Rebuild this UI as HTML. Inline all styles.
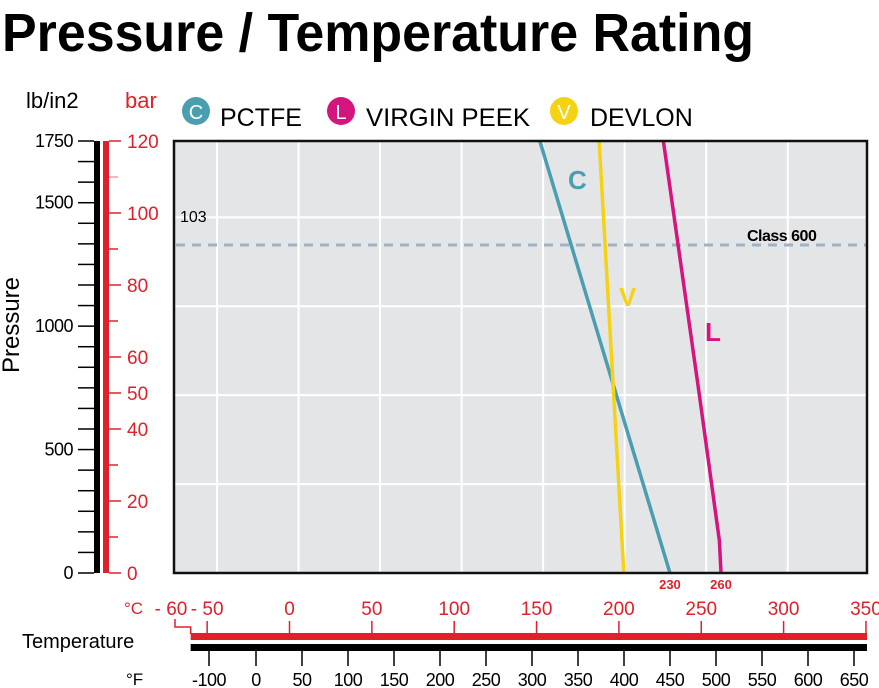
<!DOCTYPE html>
<html><head><meta charset="utf-8"><style>
html,body{margin:0;padding:0;background:#fff;width:879px;height:688px;overflow:hidden}
svg{display:block;font-family:"Liberation Sans",sans-serif}
</style></head><body>
<svg id="chart" width="879" height="688" viewBox="0 0 879 688">
<text x="2" y="51" font-size="54" font-weight="bold" textLength="752" lengthAdjust="spacingAndGlyphs">Pressure / Temperature Rating</text>
<text x="26" y="108" font-size="22">lb/in2</text>
<text x="125" y="108" font-size="22" fill="#e0202a">bar</text>
<g>
 <g><circle cx="196" cy="111" r="14" fill="#4a9eb0"/><text x="196" y="119" font-size="20" fill="#fff" text-anchor="middle">C</text><text x="220" y="126" font-size="25">PCTFE</text></g>
 <g><circle cx="341" cy="111" r="14" fill="#d6147f"/><text x="341" y="119" font-size="20" fill="#fff" text-anchor="middle">L</text><text x="366" y="126" font-size="25" textLength="164" lengthAdjust="spacingAndGlyphs">VIRGIN PEEK</text></g>
 <g><circle cx="564" cy="111" r="14" fill="#f5d314"/><text x="564" y="119" font-size="20" fill="#fff" text-anchor="middle">V</text><text x="590" y="126" font-size="25">DEVLON</text></g>
</g>
<text transform="translate(19,325) rotate(-90)" font-size="24" text-anchor="middle">Pressure</text>
<text x="22" y="648" font-size="20">Temperature</text>
<text x="124" y="614" font-size="17" fill="#e0202a">°C</text>
<text x="126" y="685" font-size="17">°F</text>
<g id="plot"></g>
</svg>
<script>
const psiTicks=[0,500,1000,1500,1750];
const barTicks=[0,20,40,50,60,80,100,120];
const barMinorTicks=[10,30,70,90,110];
const celsiusTicks=[-50,0,50,100,150,200,250,300,350];
const fahrenheitTicks=[-100,0,50,100,150,200,250,300,350,400,450,500,550,600,650];
const gridTemps=[-44,5.5,55,104.5,154,203.5,253,302.5];
const gridBars=[24.7,49.4,74.1,98.8];
const classRating=91.1;
const pctfeTemp=[152,231];
const pctfeBar=[120,0];
const devlonTemp=[188,203];
const devlonBar=[120,0];
const peekTemp=[227,249,261,262];
const peekBar=[120,49,9,0];

const NS="http://www.w3.org/2000/svg";
const svg=document.getElementById('chart');
const X0=174,X1=867,Y0=141,Y1=573;
const xC=c=>289.5+c*1.647;
const yB=b=>Y1-b*(Y1-Y0)/120;
const yP=p=>Y1-p*(Y1-Y0)/1750;
const xF=f=>f>=0?256+0.92*f:256+0.47*f;
function el(t,a,p){const e=document.createElementNS(NS,t);for(const k in a)e.setAttribute(k,a[k]);(p||svg).appendChild(e);return e;}
function tx(s,a){const e=el('text',a);e.textContent=s;return e;}

let e=el('rect',{x:X0,y:Y0,width:X1-X0,height:Y1-Y0,fill:'#e4e5e7'});


gridTemps.forEach(c=>{const g=el('line',{x1:xC(c),x2:xC(c),y1:Y0,y2:Y1,stroke:'#fff','stroke-width':2});

});
gridBars.forEach(b=>{const g=el('line',{x1:X0,x2:X1,y1:yB(b),y2:yB(b),stroke:'#fff','stroke-width':2});

});
e=el('line',{x1:X0+2,x2:X1,y1:yB(classRating),y2:yB(classRating),stroke:'#9fb3c3','stroke-width':3,'stroke-dasharray':'9,7'});


e=tx('Class 600',{x:747,y:241,'font-size':16,'font-weight':'bold','letter-spacing':'-0.5'});


e=tx('103',{x:180,y:222,'font-size':16});



function series(T,B,col,name){const p=el('polyline',{points:T.map((t,i)=>xC(t)+','+yB(B[i])).join(' '),fill:'none',stroke:col,'stroke-width':3.5});

}
series(pctfeTemp,pctfeBar,'#4a9eb0','series-pctfe');
series(devlonTemp,devlonBar,'#f5d314','series-devlon');
series(peekTemp,peekBar,'#d6147f','series-virgin-peek');
e=tx('C',{x:568,y:189,'font-size':26,'font-weight':'bold',fill:'#4a9eb0'});


e=tx('V',{x:619,y:306,'font-size':26,'font-weight':'bold',fill:'#f5d314'});


e=tx('L',{x:705,y:341,'font-size':26,'font-weight':'bold',fill:'#d6147f'});


e=el('rect',{x:X0,y:Y0,width:X1-X0,height:Y1-Y0,fill:'none',stroke:'#111','stroke-width':2.5});


e=tx(String(pctfeTemp[pctfeTemp.length-1]-1),{x:xC(pctfeTemp[pctfeTemp.length-1]),y:589,'font-size':13,fill:'#e0202a','text-anchor':'middle','font-weight':'bold'});


e=tx(String(peekTemp[peekTemp.length-1]-2),{x:xC(peekTemp[peekTemp.length-1]),y:589,'font-size':13,fill:'#e0202a','text-anchor':'middle','font-weight':'bold'});



// left axes
e=el('rect',{x:94,y:Y0,width:6,height:Y1-Y0,fill:'#000'});


e=el('rect',{x:103,y:Y0,width:6,height:Y1-Y0,fill:'#e0202a'});


for(let i=0;i<=21;i++){const p=1750*i/21;const t=el('line',{x1:78,x2:94,y1:yP(p),y2:yP(p),stroke:'#000','stroke-width':1.5});

}
psiTicks.forEach(p=>{const t=tx(String(p),{x:73,y:yP(p)+6,'font-size':18,'text-anchor':'end','letter-spacing':'-0.5'});

});
barTicks.forEach(b=>{const l=el('line',{x1:109,x2:121,y1:yB(b),y2:yB(b),stroke:'#e0202a','stroke-width':1.5});


const t=tx(String(b),{x:127,y:yB(b)+7,'font-size':19,fill:'#e0202a'});

});
barMinorTicks.forEach(b=>{const l=el('line',{x1:109,x2:118,y1:yB(b),y2:yB(b),stroke:b===110?'#f0a0a0':'#e0202a','stroke-width':1.5});

});

// bottom axes
e=el('rect',{x:xC(-60),y:633,width:X1-xC(-60),height:7,fill:'#e0202a'});


e=el('rect',{x:xC(-60),y:644,width:X1-xC(-60),height:7,fill:'#000'});


celsiusTicks.forEach(c=>{const l=el('line',{x1:xC(c),x2:xC(c),y1:621,y2:634,stroke:'#e0202a','stroke-width':1.5});


const t=tx((c<0?'- ':'')+Math.abs(c),{x:xC(c),y:615,'font-size':19,fill:'#e0202a','text-anchor':'middle'});

});
e=tx('- 60',{x:171,y:615,'font-size':19,fill:'#e0202a','text-anchor':'middle'});


e=el('polyline',{points:'175,619 175,627 '+xC(-60)+',627 '+xC(-60)+',634',fill:'none',stroke:'#e0202a','stroke-width':1.5});


fahrenheitTicks.forEach(f=>{const l=el('line',{x1:xF(f),x2:xF(f),y1:650,y2:666,stroke:'#000','stroke-width':1.5});


const t=tx(String(f),{x:xF(f),y:686,'font-size':18,'text-anchor':'middle','letter-spacing':'-0.5'});

});
</script>
</body></html>
